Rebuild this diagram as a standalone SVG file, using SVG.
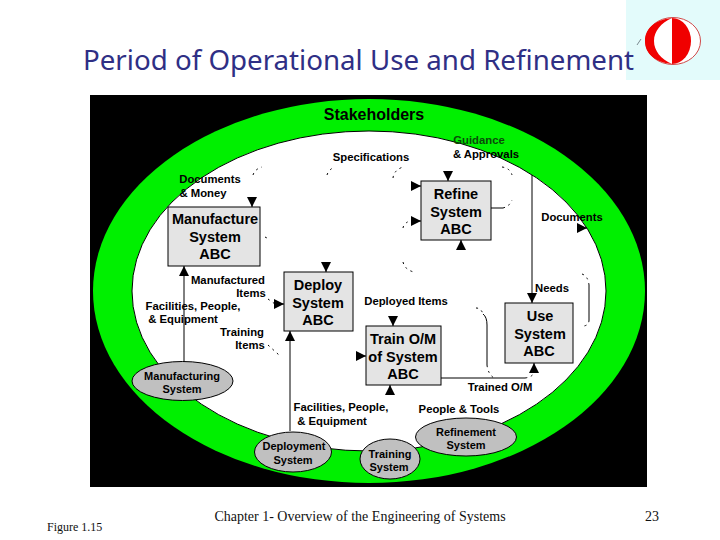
<svg xmlns="http://www.w3.org/2000/svg" width="720" height="540" viewBox="0 0 720 540">
<style>
.t{font-family:"Liberation Sans",Arial,sans-serif;font-weight:bold;fill:#000;text-anchor:middle}
.s{font-size:11.300px}
.b{font-size:14.500px}
.o{font-size:11px}
.box{fill:#e4e4e4;stroke:#000;stroke-width:1}
.el{fill:#c0c0c0;stroke:#000;stroke-width:1}
.ln{fill:none;stroke:#000;stroke-width:1}
.dl{fill:none;stroke:#000;stroke-width:1;stroke-dasharray:2 4}
.f{font-family:"Liberation Serif","Times New Roman",serif;fill:#111}
</style>
<defs>
<marker id="a" viewBox="0 0 10 10" refX="10" refY="5" markerWidth="10" markerHeight="10" markerUnits="userSpaceOnUse" orient="auto"><path d="M0 0L10 5L0 10Z" fill="#000"/></marker>
</defs>
<rect width="720" height="540" fill="#fff"/>
<g id="logo">
<rect x="626" y="0" width="94" height="80" fill="#e3fbfb"/>
<ellipse cx="673" cy="41" rx="27.500" ry="23.500" fill="#fff" stroke="#d04848" stroke-width="1"/>
<path d="M672 18A19 23 0 0 1 672 64Z" fill="#f00000"/>
<path d="M672 18C654 20 645 29 645 41C645 53 654 62 672 64C661 59 654 51 654 41C654 31 661 23 672 18Z" fill="#f00000"/>
<path d="M637 45L641 39" stroke="#7c8a90" stroke-width="1" fill="none"/>
</g>
<text id="title" x="83" y="70" font-family="'Noto Sans',sans-serif" font-size="28" fill="#2f2f85" textLength="551" lengthAdjust="spacingAndGlyphs">Period of Operational Use and Refinement</text>
<rect id="panel" x="90" y="95" width="557" height="392" fill="#000"/>
<ellipse id="ring" cx="369" cy="291" rx="276" ry="192" fill="#00f000"/>
<ellipse id="inner" cx="369" cy="291" rx="237" ry="160" fill="#fff" stroke="#000" stroke-width="1"/>
<text class="t" x="374" y="120" font-size="16">Stakeholders</text>
<g id="connectors">
<path class="ln" d="M184 362V266" marker-end="url(#a)"/>
<path class="ln" d="M290 431V331" marker-end="url(#a)"/>
<path class="ln" d="M532 175V303" marker-end="url(#a)"/>
<path class="ln" d="M441 378H525"/>
<path class="dl" d="M525 378Q533 377 534 372"/>
<path class="ln" d="M491 208H503"/>
<path class="dl" d="M503 208Q510 206 512 200"/>
<path class="dl" d="M502 167Q510 168 512 175"/>
<path class="ln" d="M483 314Q487 317 487 325V365"/>
<path class="dl" d="M476 308Q481 308 483 314M487 365Q488 374 494 378"/>
<path class="ln" d="M589 285V320"/>
<path class="dl" d="M582 274Q588 276 589 285M589 320Q589 325 584 326"/>
<path class="dl" d="M253 175Q255 169 262 167"/>
<path class="dl" d="M327 175Q329 169 335 167"/>
<path class="dl" d="M393 178Q394 170 403 167"/>
<path class="dl" d="M403 228Q404 222 413 220"/>
<path class="dl" d="M403 262Q405 270 414 272"/>
<path class="dl" d="M265 237L269 239"/>
<path class="dl" d="M268 299L275 304"/>
<path class="dl" d="M268 345L279 355"/>
<path class="ln" d="M252 197V207" marker-end="url(#a)"/>
<path class="ln" d="M326 262V272" marker-end="url(#a)"/>
<path class="ln" d="M448 171V181" marker-end="url(#a)"/>
<path class="ln" d="M411 186H421" marker-end="url(#a)"/>
<path class="ln" d="M411 221H421" marker-end="url(#a)"/>
<path class="ln" d="M461 250V240" marker-end="url(#a)"/>
<path class="ln" d="M274 304H284" marker-end="url(#a)"/>
<path class="ln" d="M393 316V326" marker-end="url(#a)"/>
<path class="ln" d="M356 356H366" marker-end="url(#a)"/>
<path class="ln" d="M390 395V385" marker-end="url(#a)"/>
<path class="ln" d="M534 373V363" marker-end="url(#a)"/>
<path class="ln" d="M577 228H587" marker-end="url(#a)"/>
</g>
<g id="manufacture"><rect class="box" x="168" y="207" width="92" height="59"/><text class="t b" x="215" y="224">Manufacture</text><text class="t b" x="215" y="242">System</text><text class="t b" x="215" y="259">ABC</text></g>
<g id="refine"><rect class="box" x="421" y="181" width="70" height="59"/><text class="t b" x="456" y="199">Refine</text><text class="t b" x="456" y="217">System</text><text class="t b" x="456" y="234">ABC</text></g>
<g id="deploy"><rect class="box" x="284" y="272" width="69" height="59"/><text class="t b" x="318" y="290">Deploy</text><text class="t b" x="318" y="308">System</text><text class="t b" x="318" y="325">ABC</text></g>
<g id="train"><rect class="box" x="366" y="326" width="75" height="59"/><text class="t b" x="403" y="344">Train O/M</text><text class="t b" x="403" y="362">of System</text><text class="t b" x="403" y="379">ABC</text></g>
<g id="use"><rect class="box" x="505" y="303" width="68" height="60"/><text class="t b" x="540" y="321">Use</text><text class="t b" x="540" y="339">System</text><text class="t b" x="539" y="356">ABC</text></g>
<g id="manufacturing"><ellipse class="el" cx="182.500" cy="381" rx="50.500" ry="19.500"/><text class="t o" x="182" y="380">Manufacturing</text><text class="t o" x="182" y="393">System</text></g>
<g id="deployment"><ellipse class="el" cx="293" cy="452" rx="38.500" ry="20"/><text class="t o" x="294" y="450">Deployment</text><text class="t o" x="293" y="464">System</text></g>
<g id="training"><ellipse class="el" cx="390" cy="459" rx="30" ry="20"/><text class="t o" x="390" y="458">Training</text><text class="t o" x="389" y="471">System</text></g>
<g id="refinement"><ellipse class="el" cx="466" cy="437" rx="50.500" ry="19"/><text class="t o" x="466" y="436">Refinement</text><text class="t o" x="466" y="449">System</text></g>
<g id="labels">
<text class="t s" x="371" y="161">Specifications</text>
<text class="t s" x="479" y="144" style="fill:#0a4a0a">Guidance</text>
<text class="t s" x="486" y="158">&amp; Approvals</text>
<text class="t s" x="210" y="183">Documents</text>
<text class="t s" x="203" y="197">&amp; Money</text>
<text class="t s" x="572" y="221">Documents</text>
<text class="t s" x="552" y="292">Needs</text>
<text class="t s" x="228" y="284">Manufactured</text>
<text class="t s" x="251" y="297">Items</text>
<text class="t s" x="193" y="310">Facilities, People,</text>
<text class="t s" x="183" y="323">&amp; Equipment</text>
<text class="t s" x="242" y="336">Training</text>
<text class="t s" x="250" y="349">Items</text>
<text class="t s" x="406" y="305">Deployed Items</text>
<text class="t s" x="500" y="391">Trained O/M</text>
<text class="t s" x="341" y="411">Facilities, People,</text>
<text class="t s" x="332" y="425">&amp; Equipment</text>
<text class="t s" x="459" y="413">People &amp; Tools</text>
</g>
<text class="f" x="47" y="531" font-size="12">Figure 1.15</text>
<text class="f" x="360" y="521" font-size="14" text-anchor="middle">Chapter 1- Overview of the Engineering of Systems</text>
<text class="f" x="652" y="521" font-size="14" text-anchor="middle">23</text>
</svg>
